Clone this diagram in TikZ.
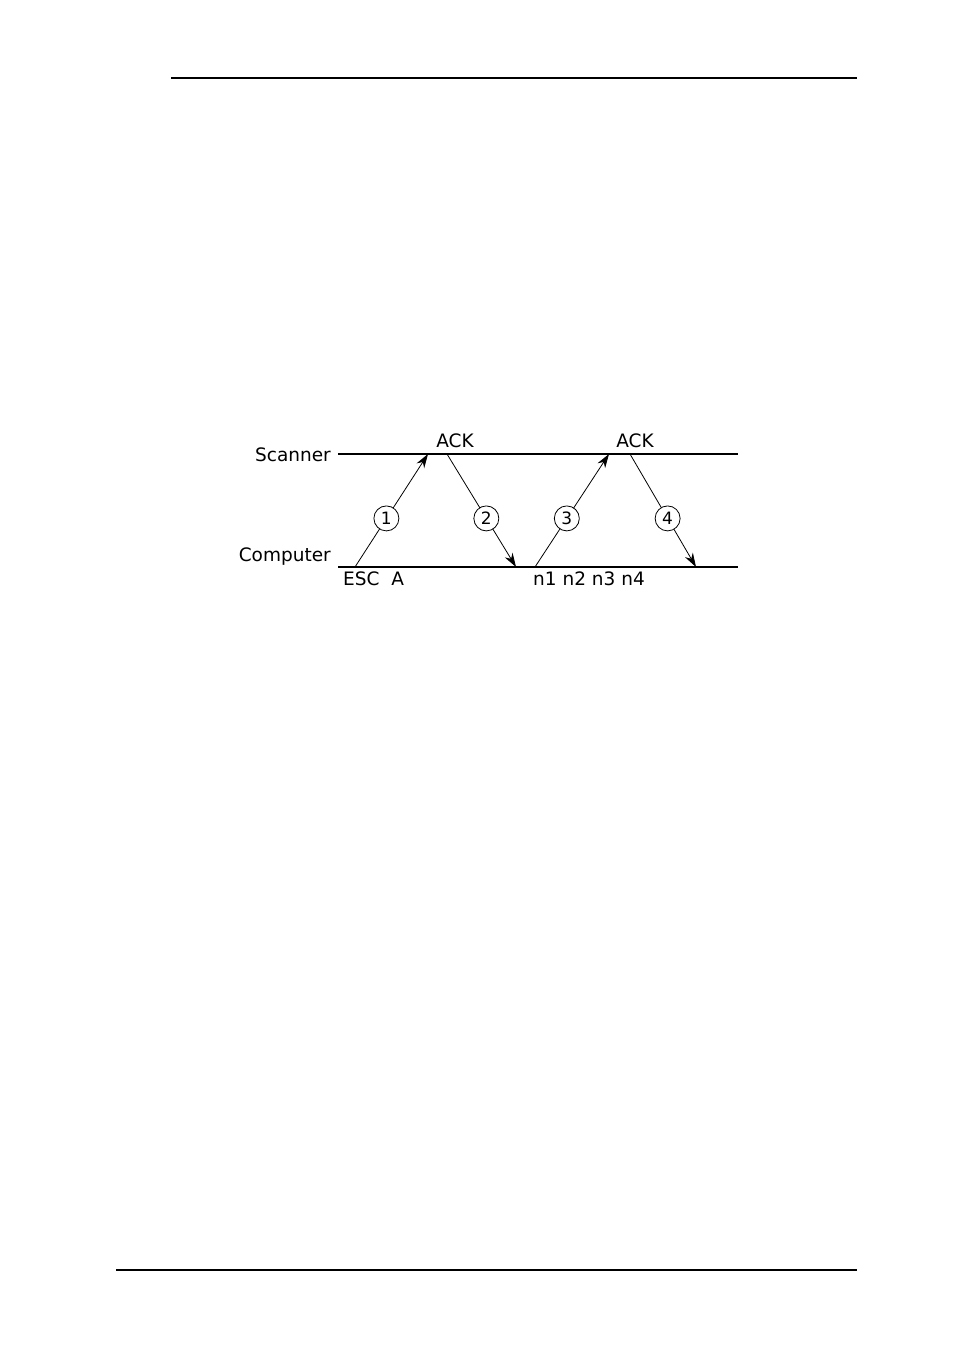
\documentclass[tikz,border=0pt]{standalone}
\usepackage{fontspec}
\setmainfont{DejaVu Sans}
\usetikzlibrary{arrows.meta}

\begin{document}
\begin{tikzpicture}[x=1pt, y=-1pt,
		every node/.style={font=\fontsize{18.5}{18.5}\selectfont, inner sep=0pt},
		num/.style={circle, draw, fill=white, minimum size=25pt, font=\fontsize{17}{17}\selectfont},
		msg/.style={-{Stealth[length=14pt, width=9pt]}, line width=0.8pt},
		rule/.style={line width=1.4pt}]
			\useasboundingbox (0,0) rectangle (954,1365);
			% page rules
			\draw[line width=1.2pt] (171,78) -- (857,78);
			\draw[line width=1.2pt] (116,1270) -- (857,1270);
			
			\coordinate (SL) at (338,454);
			\coordinate (SR) at (738,454);
			\coordinate (CL) at (338,567);
			\coordinate (CR) at (738,567);
			\node[anchor=east] (scanner) at (331,455) {Scanner};
			\node[anchor=east] (computer) at (331,557) {Computer};
			\draw[rule] (SL) -- (SR);
			\draw[rule] (CL) -- (CR);
			
			\coordinate (c1) at (355,567);
			\coordinate (s1) at (428,454);
			\coordinate (s2) at (447,454);
			\coordinate (c2) at (516,567);
			\coordinate (c3) at (535,567);
			\coordinate (s3) at (609,454);
			\coordinate (s4) at (630,454);
			\coordinate (c4) at (696,567);
			
			\node (ack1) at (455,441) {ACK};
			\node (ack2) at (635,441) {ACK};
			\node[anchor=north west] (esc) at (343,572) {ESC\ \ A};
			\node[anchor=north west] (data) at (533,572) {n1 n2 n3 n4};
			
			\path[msg] (c1) edge node[num, pos=0.43] {1} (s1);
			\path[msg] (s2) edge node[num, pos=0.57] {2} (c2);
			\path[msg] (c3) edge node[num, pos=0.43] {3} (s3);
			\path[msg] (s4) edge node[num, pos=0.57] {4} (c4);
		\end{tikzpicture}
\end{document}
